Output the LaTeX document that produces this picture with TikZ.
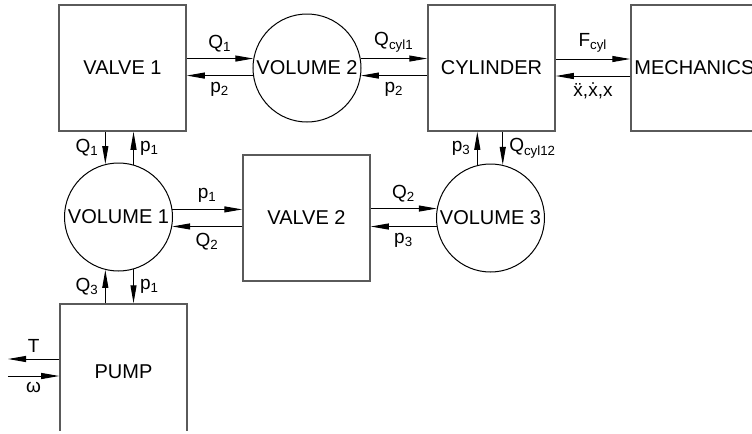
\documentclass[tikz,border=0pt]{standalone}
\usepackage{fontspec}
\setmainfont{Liberation Sans}
\usetikzlibrary{arrows.meta,positioning}
\definecolor{frame}{HTML}{5A5A5A}

\begin{document}
\begin{tikzpicture}[x=0.5pt,y=-0.5pt,
    block/.style={draw=frame, line width=0.75pt, minimum width=63.5pt,
      minimum height=63pt, inner sep=0pt, font=\fontsize{10}{12}\selectfont},
    vol/.style={circle, draw, line width=0.5pt, minimum size=54pt,
      inner sep=0pt, font=\fontsize{10}{12}\selectfont},
    sig/.style={line width=0.5pt, -{Triangle[length=9pt,width=3pt]}},
    lbl/.style={font=\fontsize{9.5}{11}\selectfont, inner sep=3pt}]
  \useasboundingbox (0,0) rectangle (752,434);
  \clip (0,0) rectangle (752,430);

  % blocks and volumes
  \node[block] (valve1) at (122.5,68) {VALVE 1};
  \node[vol] (vol2) at (307,68) {VOLUME 2};
  \node[block] (cyl) at (491.5,68) {CYLINDER};
  \node[block] (mech) at (694.5,68) {MECHANICS};
  \node[vol] (vol1) at (118.5,217) {VOLUME 1};
  \node[block] (valve2) at (306.5,218) {VALVE 2};
  \node[vol] (vol3) at (490.5,218) {VOLUME 3};
  \node[block, minimum height=68pt] (pump) at (123.5,372) {PUMP};

  \coordinate (tq) at (8,359);
  \coordinate (om) at (8,376);

  % top row
  \draw[sig] (vol2.170 -| valve1.east) -- (vol2.170) node[midway,above,lbl] {Q\textsubscript{1}};
  \draw[sig] (vol2.188) -- (vol2.188 -| valve1.east) node[midway,below,lbl] {p\textsubscript{2}};
  \draw[sig] (vol2.10) -- (vol2.10 -| cyl.west) node[midway,above,lbl] {Q\textsubscript{cyl1}};
  \draw[sig] (vol2.-8 -| cyl.west) -- (vol2.-8) node[midway,below,lbl] {p\textsubscript{2}};
  \draw[sig] ([yshift=4.5pt]cyl.east) -- ([yshift=4.5pt]cyl.east -| mech.west)
    node[midway,above,lbl] {F\textsubscript{cyl}};
  \draw[sig] ([yshift=-4pt]cyl.east -| mech.west) -- ([yshift=-4pt]cyl.east)
    node[midway,below,lbl] {\"x,\.x,x};

  % valve 1 / volume 1 / pump
  \draw[sig] (vol1.104 |- valve1.south) -- (vol1.104) node[midway,left,lbl] {Q\textsubscript{1}};
  \draw[sig] (vol1.74) -- (vol1.74 |- valve1.south) node[midway,right,lbl] {p\textsubscript{1}};
  \draw[sig] (vol1.256 |- pump.north) -- (vol1.256) node[midway,left,lbl] {Q\textsubscript{3}};
  \draw[sig] (vol1.286) -- (vol1.286 |- pump.north) node[midway,right,lbl] {p\textsubscript{1}};
  \draw[sig] (tq -| pump.west) -- (tq) node[midway,above,lbl] {T};
  \draw[sig] (om) -- (om -| pump.west) node[midway,below,lbl] {ω};

  % middle row
  \draw[sig] (vol1.8) -- (vol1.8 -| valve2.west) node[midway,above,lbl] {p\textsubscript{1}};
  \draw[sig] (vol1.-10 -| valve2.west) -- (vol1.-10) node[midway,below,lbl] {Q\textsubscript{2}};
  \draw[sig] (vol3.170 -| valve2.east) -- (vol3.170) node[midway,above,lbl] {Q\textsubscript{2}};
  \draw[sig] (vol3.189) -- (vol3.189 -| valve2.east) node[midway,below,lbl] {p\textsubscript{3}};

  % cylinder / volume 3
  \draw[sig] (vol3.104) -- (vol3.104 |- cyl.south) node[midway,left,lbl] {p\textsubscript{3}};
  \draw[sig] (vol3.77 |- cyl.south) -- (vol3.77) node[midway,right,lbl] {Q\textsubscript{cyl12}};
\end{tikzpicture}
\end{document}
